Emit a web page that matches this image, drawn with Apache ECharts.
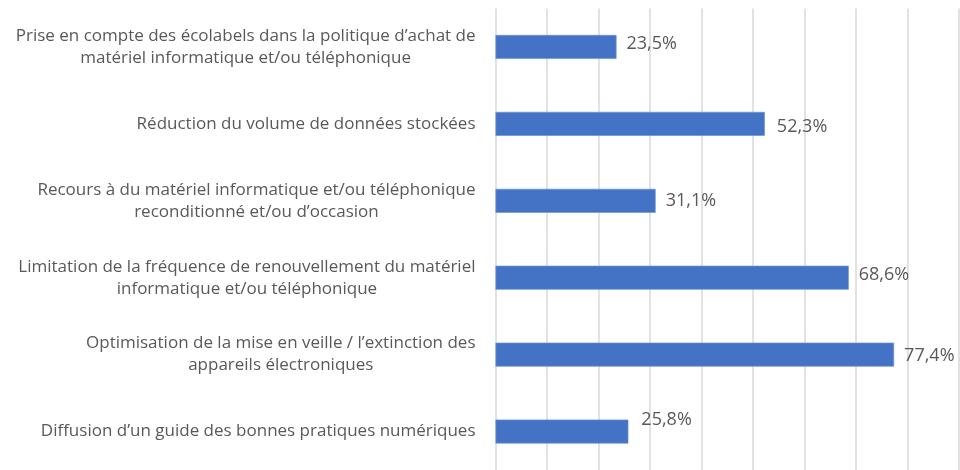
<!DOCTYPE html>
<html>
<head>
<meta charset="utf-8">
<script src="https://cdn.jsdelivr.net/npm/echarts@6/dist/echarts.min.js"></script>
<style>
html,body{margin:0;padding:0;background:#fff;}
#chart{width:960px;height:470px;}
</style>
</head>
<body>
<div id="chart"></div>
<script>
var categories = [
  "Prise en compte des écolabels dans la politique d’achat de\nmatériel informatique et/ou téléphonique",
  "Réduction du volume de données stockées",
  "Recours à du matériel informatique et/ou téléphonique\nreconditionné et/ou d’occasion",
  "Limitation de la fréquence de renouvellement du matériel\ninformatique et/ou téléphonique",
  "Optimisation de la mise en veille / l’extinction des\nappareils électroniques",
  "Diffusion d’un guide des bonnes pratiques numériques"
];
var values = [23.5, 52.3, 31.1, 68.6, 77.4, 25.8];
var valueLabels = ["23,5%", "52,3%", "31,1%", "68,6%", "77,4%", "25,8%"];
var labelOffsets = [[0, -3], [2, 3], [0, 0], [0, -3], [0, 1], [3, -12]];

var chart = echarts.init(document.getElementById('chart'));
var font = 'Open Sans';
chart.setOption({
  animation: false,
  grid: { left: 495.5, right: 1, top: 8.5, bottom: -1, containLabel: false },
  xAxis: {
    type: 'value', min: 0, max: 90, interval: 10,
    axisLabel: { show: false }, axisLine: { show: false }, axisTick: { show: false },
    splitLine: { show: true, lineStyle: { color: '#d9d9d9', width: 1.5 } }
  },
  yAxis: {
    type: 'category', inverse: true, data: categories,
    axisLine: { show: false }, axisTick: { show: false },
    axisLabel: {
      margin: 20,
      color: '#595959',
      fontFamily: font,
      fontSize: 17,
      formatter: function (v) {
        return v.split('\n').map(function (l) { return '{c|' + l + '}'; }).join('\n');
      },
      rich: { c: { align: 'center', color: '#595959', fontFamily: font, fontSize: 17, lineHeight: 22 } }
    }
  },
  series: [{
    type: 'bar',
    barWidth: 24,
    data: values.map(function (v, i) {
      return {
        value: v,
        label: { offset: labelOffsets[i] }
      };
    }),
    itemStyle: { color: '#4472C4', borderColor: '#6f93d4', borderWidth: 0.7 },
    label: {
      show: true, position: 'right', distance: 10,
      color: '#595959', fontFamily: font, fontSize: 18,
      formatter: function (p) { return valueLabels[p.dataIndex]; }
    }
  }]
});
</script>
</body>
</html>
